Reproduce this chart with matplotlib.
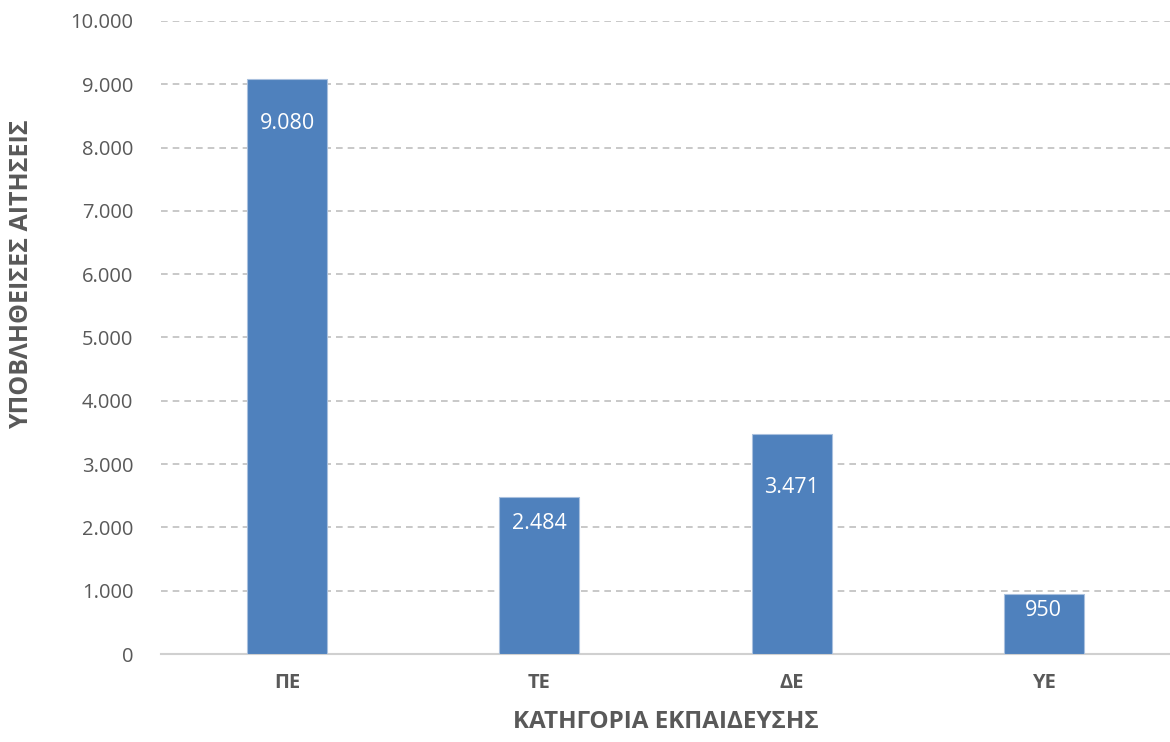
import matplotlib
matplotlib.use("Agg")
import matplotlib.pyplot as plt
from matplotlib.ticker import FuncFormatter

categories = ["ΠΕ", "ΤΕ", "ΔΕ", "ΥΕ"]
applications = [9080, 2484, 3471, 950]
# how far (in points) each value label sits below its bar top, as in the original
label_drop = [-32, -19, -38, -12]

plt.rcParams["font.family"] = ["Open Sans", "DejaVu Sans"]

fig = plt.figure(figsize=(11.7, 7.42), dpi=100)
ax = fig.add_axes([161 / 1170, 1 - 654 / 742, 1009 / 1170, 633 / 742])

x = range(len(categories))
bars = ax.bar(x, applications, width=0.317, color="#4F81BD",
              edgecolor="#A9C0DE", linewidth=0.8, zorder=3)

for rect, val, dy in zip(bars, applications, label_drop):
    ax.annotate(f"{val:,}".replace(",", "."),
                (rect.get_x() + rect.get_width() / 2, val),
                xytext=(0, dy), textcoords="offset points",
                ha="center", va="center", color="white", fontsize=15.5)

ax.set_xlim(-0.5, len(categories) - 0.5)
ax.set_ylim(0, 10000)
ax.set_yticks(range(0, 10001, 1000))
ax.yaxis.set_major_formatter(FuncFormatter(lambda v, p: f"{int(v):,}".replace(",", ".")))
ax.set_xticks(list(x))
ax.set_xticklabels(categories, fontweight="bold", fontsize=15)

ax.grid(axis="y", color="#BFBFBF", linestyle=(0, (4, 3)), linewidth=1.2, zorder=0)
for side in ("left", "right", "top"):
    ax.spines[side].set_visible(False)
ax.spines["bottom"].set_color("#D0D0D0")
ax.spines["bottom"].set_linewidth(1.5)
ax.tick_params(axis="both", length=0, colors="#595959", labelsize=14.5)
ax.tick_params(axis="y", pad=20)
ax.tick_params(axis="x", pad=14)

ax.set_xlabel("ΚΑΤΗΓΟΡΙΑ ΕΚΠΑΙΔΕΥΣΗΣ", fontsize=17.5, fontweight="bold",
              color="#595959", labelpad=12)
ax.set_ylabel("ΥΠΟΒΛΗΘΕΙΣΕΣ ΑΙΤΗΣΕΙΣ", fontsize=18, fontweight="bold",
              color="#595959", va="center")
# the original sits the y title a bit above the middle of the axis
ax.yaxis.set_label_coords(-0.138, 0.6)

fig.savefig("out.png", dpi=100)
